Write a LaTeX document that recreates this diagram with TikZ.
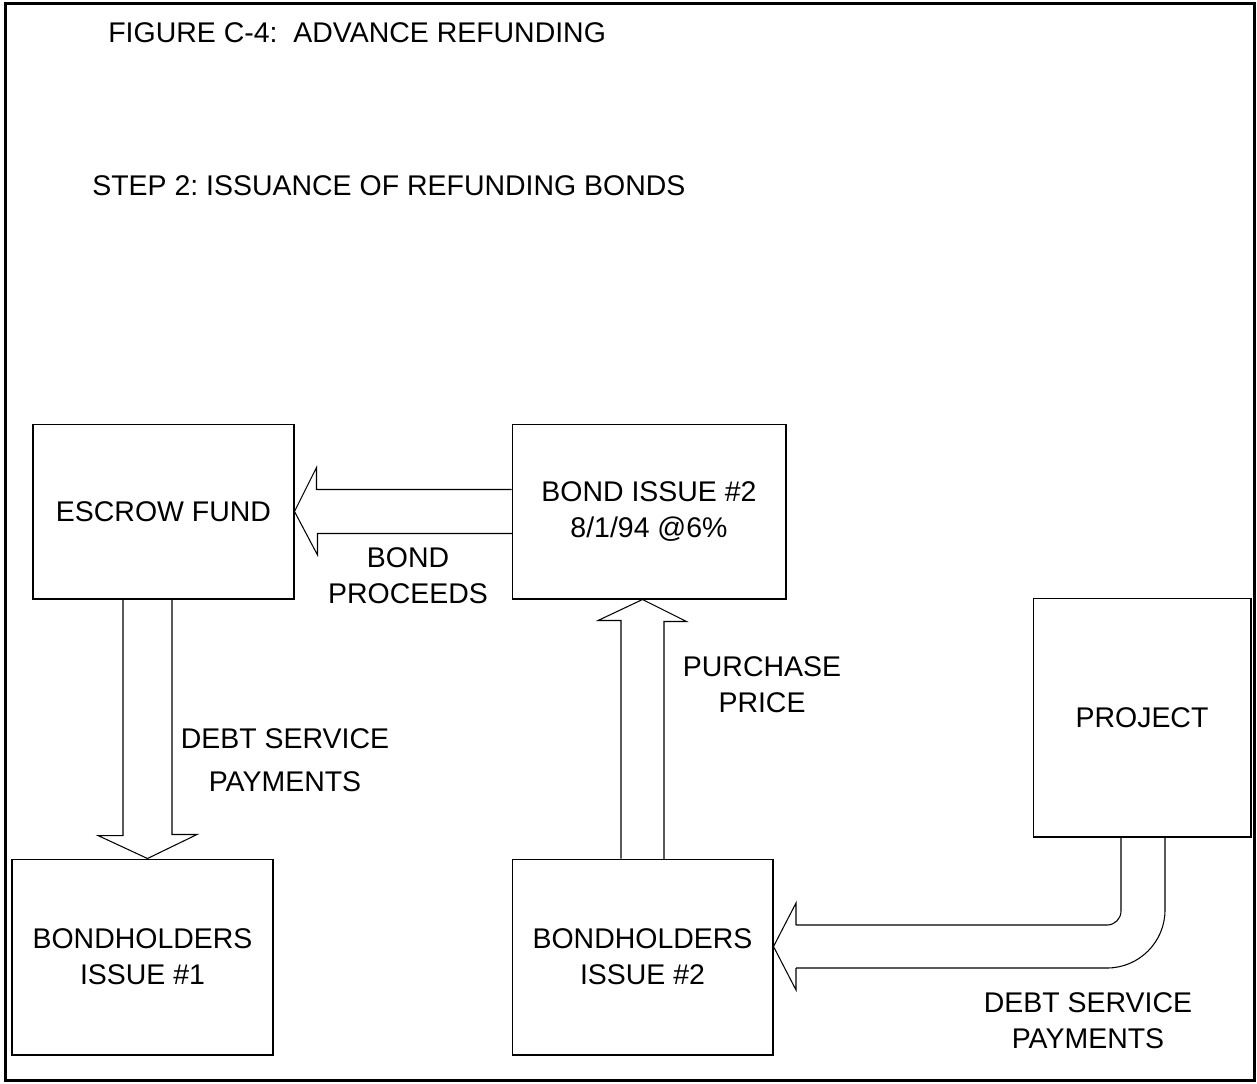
\documentclass[tikz,border=0pt]{standalone}
\usepackage{fontspec}
\setmainfont{Liberation Sans}

\begin{document}
\begin{tikzpicture}[x=0.02cm, y=-0.02cm, font=\fontsize{16.2}{20.5}\selectfont\frenchspacing]
    \tikzstyle{box}=[rectangle, draw, line width=0.6pt, align=center, inner sep=0pt]
    \tikzstyle{lbl}=[align=center, inner sep=0pt]
    \tikzstyle{bigarrow}=[line width=0.6pt, line join=miter]

    \useasboundingbox (0,0) rectangle (1257,1083);
    \draw[line width=1.7pt] (5.5,3) rectangle (1254,1080);

    \node[anchor=base west, inner sep=0pt] (title) at (108,42) {FIGURE C-4:~ ADVANCE REFUNDING};
    \node[anchor=base west, inner sep=0pt] (step) at (92,195) {STEP 2: ISSUANCE OF REFUNDING BONDS};

    \node[box, minimum width=5.22cm, minimum height=3.5cm] (escrow) at (163.5,511.5) {ESCROW FUND};
    \node[box, minimum width=5.48cm, minimum height=3.5cm] (bond2) at (649,511.5) {BOND ISSUE \#2\\8/1/94 @6\%};
    \node[box, minimum width=4.36cm, minimum height=4.78cm] (project) at (1142,717.5) {PROJECT};
    \node[box, minimum width=5.22cm, minimum height=3.92cm] (bh1) at (142.5,957) {BONDHOLDERS\\ISSUE \#1};
    \node[box, minimum width=5.22cm, minimum height=3.92cm] (bh2) at (642.5,957) {BONDHOLDERS\\ISSUE \#2};

    \draw[bigarrow] (bond2.west) ++(0,-22) -- ++(-195,0) -- ++(0,-22) -- (escrow.east)
                    -- ++(23,43.5) -- ++(0,-21.5) -- ++(195,0);
    \draw[bigarrow] (escrow.south -| 147.5,0) ++(-24.5,0) -- ++(0,236) -- ++(-25,0)
                    -- (bh1.north -| 147.5,0) -- ++(49.5,-24) -- ++(-25,0) -- ++(0,-236);
    \draw[bigarrow] (bh2.north) ++(-21.5,0) -- ++(0,-238) -- ++(-23,0) -- (bond2.south -| bh2.north)
                    -- ++(44,22) -- ++(-22.5,0) -- ++(0,238);
    \draw[bigarrow, rounded corners=0.28cm] (project.south -| 1121,0) |- (796,925);
    \draw[bigarrow, rounded corners=1.16cm] (project.south -| 1165,0) |- (796,968);
    \draw[bigarrow] (796,925) -- (796,903) -- (bh2.east |- 0,946.5) -- (796,990) -- (796,968);

    \node[lbl] (proceeds) at (408,575.5) {BOND\\PROCEEDS};
    \node[lbl] (debtleft) at (285,760) {DEBT SERVICE\\[4pt]PAYMENTS};
    \node[lbl] (purchase) at (762,684.5) {PURCHASE\\PRICE};
    \node[lbl] (debtright) at (1088,1021) {DEBT SERVICE\\PAYMENTS};

\end{tikzpicture}
\end{document}
